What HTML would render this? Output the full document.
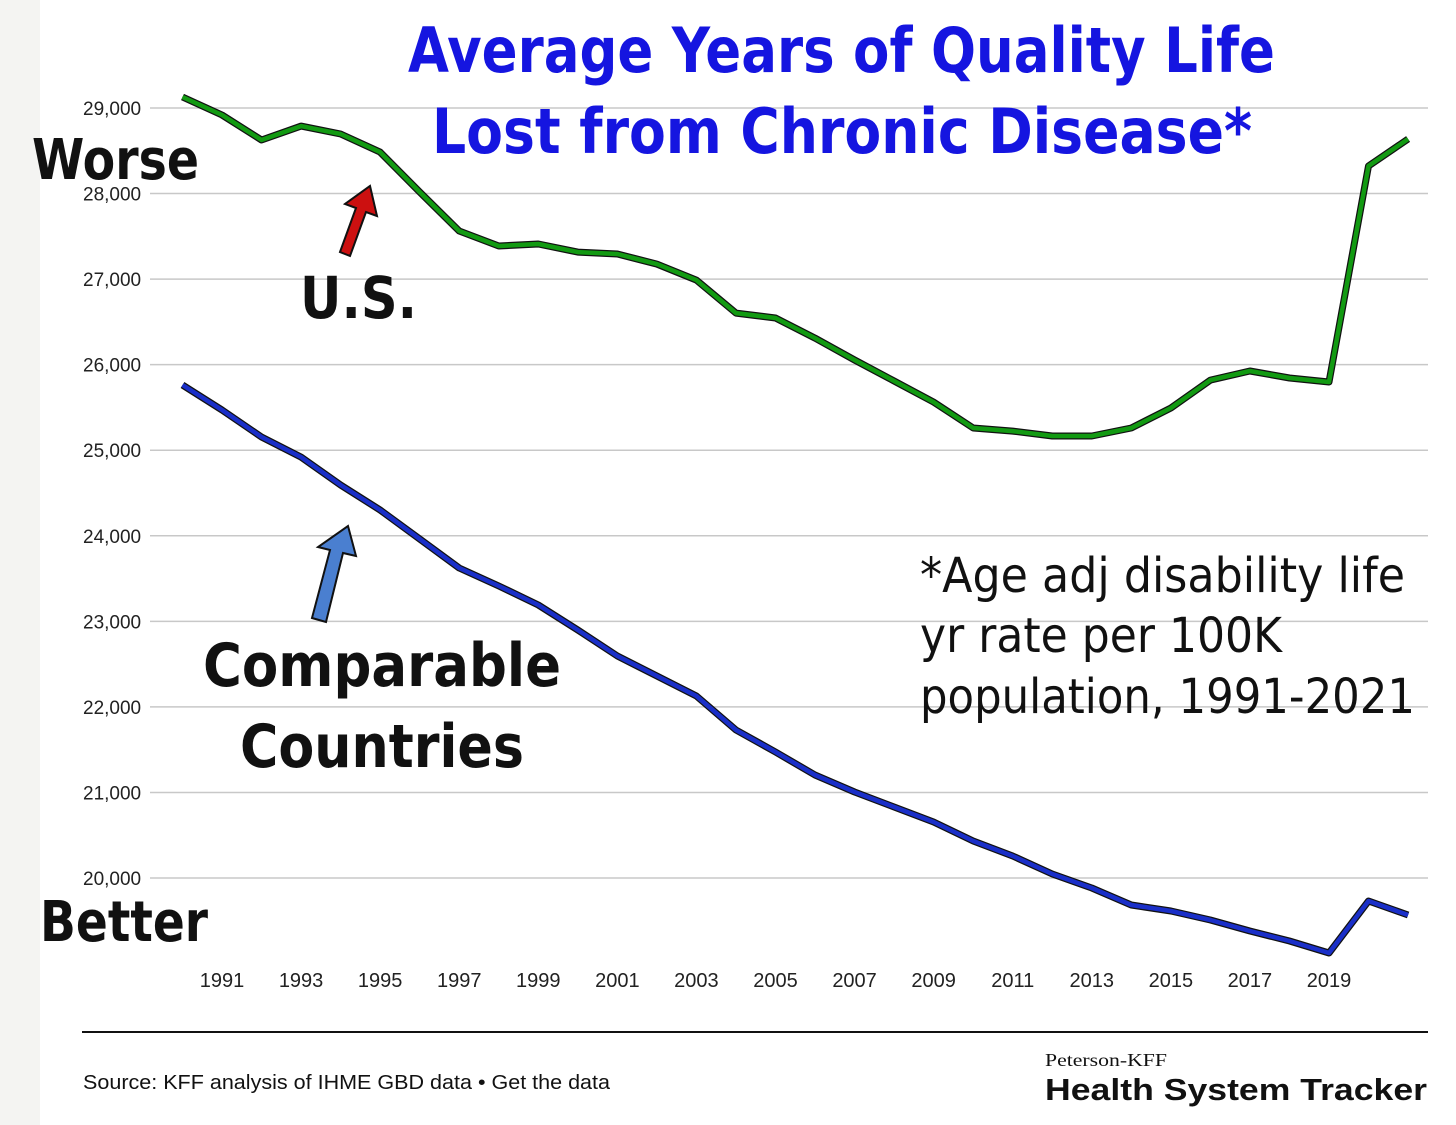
<!DOCTYPE html>
<html><head><meta charset="utf-8"><style>
body{margin:0;background:#fff;width:1456px;height:1125px;overflow:hidden;font-family:"Liberation Sans","DejaVu Sans",sans-serif}
svg{display:block}
</style></head><body>
<svg id="chart" width="1456" height="1125" xmlns="http://www.w3.org/2000/svg">
<rect x="0" y="0" width="1456" height="1125" fill="#fff"/>
<rect x="0" y="0" width="40" height="1125" fill="#f4f4f2"/>
<g id="grid"></g>
<g id="yticks"></g>
<g id="xticks"></g>
<g id="series"></g>
<text x="408" y="72" textLength="867" lengthAdjust="spacingAndGlyphs" font-size="62" font-weight="bold" fill="#1515e0" font-family="DejaVu Sans, sans-serif">Average Years of Quality Life</text>
<text x="432" y="153" textLength="820" lengthAdjust="spacingAndGlyphs" font-size="62" font-weight="bold" fill="#1515e0" font-family="DejaVu Sans, sans-serif">Lost from Chronic Disease*</text>
<text x="32" y="179" textLength="167" lengthAdjust="spacingAndGlyphs" font-size="56" font-weight="bold" fill="#111" font-family="DejaVu Sans, sans-serif">Worse</text>
<text x="40" y="941" textLength="168" lengthAdjust="spacingAndGlyphs" font-size="56" font-weight="bold" fill="#111" font-family="DejaVu Sans, sans-serif">Better</text>
<text x="300" y="318" textLength="117" lengthAdjust="spacingAndGlyphs" font-size="58" font-weight="bold" fill="#111" font-family="DejaVu Sans, sans-serif">U.S.</text>
<text x="203" y="686" textLength="358" lengthAdjust="spacingAndGlyphs" font-size="60" font-weight="bold" fill="#111" font-family="DejaVu Sans, sans-serif">Comparable</text>
<text x="240" y="767" textLength="284" lengthAdjust="spacingAndGlyphs" font-size="60" font-weight="bold" fill="#111" font-family="DejaVu Sans, sans-serif">Countries</text>
<polygon points="340,252 356,208 345,204 370,186 377,216 366,212 350,256" fill="#cc1010" stroke="#111" stroke-width="2"/>
<polygon points="312,618 330,550 318,547 348,526 356,556 343,553 326,622" fill="#4a7fd0" stroke="#111" stroke-width="2"/>
<text x="920" y="592" textLength="485" lengthAdjust="spacingAndGlyphs" font-size="48" fill="#111" font-family="DejaVu Sans, sans-serif">*Age adj disability life</text>
<text x="920" y="652" textLength="362" lengthAdjust="spacingAndGlyphs" font-size="48" fill="#111" font-family="DejaVu Sans, sans-serif">yr rate per 100K</text>
<text x="920" y="713" textLength="495" lengthAdjust="spacingAndGlyphs" font-size="48" fill="#111" font-family="DejaVu Sans, sans-serif">population, 1991-2021</text>
<line x1="82" y1="1032" x2="1428" y2="1032" stroke="#111" stroke-width="2"/>
<text x="83" y="1089" textLength="527" lengthAdjust="spacingAndGlyphs" font-size="20" fill="#111">Source: KFF analysis of IHME GBD data • Get the data</text>
<text x="1045" y="1066" textLength="122" lengthAdjust="spacingAndGlyphs" font-size="18" fill="#111" font-family="Liberation Serif, serif">Peterson-KFF</text>
<text x="1045" y="1100" textLength="382" lengthAdjust="spacingAndGlyphs" font-size="31" font-weight="bold" fill="#111">Health System Tracker</text>
</svg>
<script>
const years=[1990,1991,1992,1993,1994,1995,1996,1997,1998,1999,2000,2001,2002,2003,2004,2005,2006,2007,2008,2009,2010,2011,2012,2013,2014,2015,2016,2017,2018,2019,2020,2021];
const usValues=[29128,28918,28626,28789,28696,28485,28018,27562,27387,27410,27316,27293,27176,26989,26603,26545,26311,26054,25809,25563,25260,25224,25166,25166,25260,25493,25820,25926,25844,25797,28322,28638];
const compValues=[25762,25470,25154,24920,24593,24301,23962,23623,23413,23191,22899,22595,22361,22127,21730,21473,21204,21005,20830,20655,20432,20257,20047,19883,19684,19614,19509,19381,19264,19123,19731,19567];
const yTicks=[20000,21000,22000,23000,24000,25000,26000,27000,28000,29000];
const xTickLabels=[1991,1993,1995,1997,1999,2001,2003,2005,2007,2009,2011,2013,2015,2017,2019];
const NS="http://www.w3.org/2000/svg";
function x(yr){return 222+(yr-1991)*(1329-222)/28;}
function y(v){return 878-(v-20000)*(770/9000);}
function mk(tag,attrs,parent){const e=document.createElementNS(NS,tag);for(const k in attrs)e.setAttribute(k,attrs[k]);document.getElementById(parent).appendChild(e);return e;}
yTicks.forEach(t=>{
 const l=mk('line',{x1:150,x2:1428,y1:y(t),y2:y(t),stroke:'#c8c8c8','stroke-width':1.5},'grid');
 
 
 const tx=mk('text',{x:83,y:y(t)+7,'font-size':19,fill:'#222'},'yticks');
 tx.textContent=t.toLocaleString('en-US');
 
 
});
xTickLabels.forEach(t=>{
 const tx=mk('text',{x:x(t),y:987,'font-size':20,fill:'#222','text-anchor':'middle'},'xticks');
 tx.textContent=t;
 
 
});
function line(vals,color,name){
 const d=vals.map((v,i)=>(i?'L':'M')+x(years[i]).toFixed(1)+','+y(v).toFixed(1)).join(' ');
 const o=mk('path',{d:d,fill:'none',stroke:'#111','stroke-width':7,'stroke-linejoin':'round'},'series');
 
 
 const p=mk('path',{d:d,fill:'none',stroke:color,'stroke-width':4.5,'stroke-linejoin':'round'},'series');
 
 
}
line(usValues,'#129a12','us-line');
line(compValues,'#1a2fc8','comparable-countries-line');
</script>
</body></html>
